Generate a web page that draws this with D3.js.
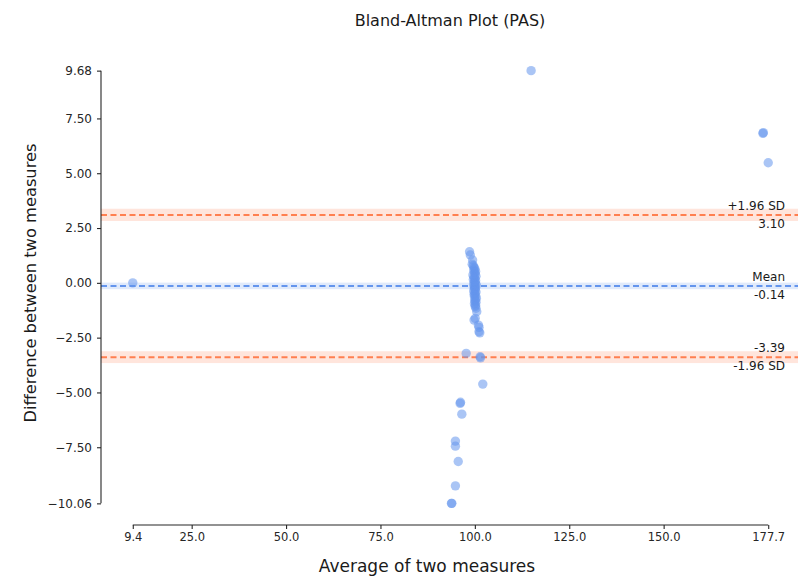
<!DOCTYPE html>
<html>
<head>
<meta charset="utf-8">
<script src="https://cdn.jsdelivr.net/npm/d3@7"></script>
<style>
  html, body { margin: 0; padding: 0; background: #fff; }
  svg { display: block; font-family: "DejaVu Sans", sans-serif; }
</style>
</head>
<body>
<svg id="chart" width="798" height="587"></svg>
<script>
// Mean of the two measurements for each subject
const averages = [
  9.4, 114.9, 176.3, 176.4, 177.7,
  98.6, 98.8, 99.4, 99.3,
  99.6, 99.8, 100.0, 99.7, 100.2, 99.9, 100.1, 99.5, 100.3, 99.8,
  100.0, 99.6, 100.2, 99.9, 100.1, 99.7, 100.4, 100.0, 99.8, 100.2,
  99.9, 100.1, 99.7, 100.3, 100.0, 99.8, 100.2, 99.9, 100.4, 100.1,
  100.0, 100.3, 99.9, 100.2, 100.1,
  100.3, 100.5, 100.1, 99.8, 100.95, 101.1, 101.1, 101.3,
  97.7, 101.4, 101.5, 102.1,
  96.1, 96.2, 96.55, 94.85, 94.85, 95.6, 94.85, 93.8, 93.9
];
// Difference between the two measurements for each subject
const differences = [
  0.0, 9.68, 6.82, 6.85, 5.48,
  1.42, 1.27, 1.04, 0.85,
  0.78, 0.70, 0.64, 0.58, 0.52, 0.47, 0.41, 0.36, 0.30, 0.25,
  0.20, 0.15, 0.10, 0.05, 0.0, -0.05, -0.10, -0.14, -0.18, -0.22,
  -0.27, -0.32, -0.37, -0.42, -0.48, -0.53, -0.58, -0.64, -0.70, -0.76,
  -0.82, -0.88, -0.95, -1.02, -1.08,
  -1.16, -1.32, -1.62, -1.70, -1.93, -2.03, -2.23, -2.28,
  -3.22, -3.37, -3.42, -4.62,
  -5.50, -5.45, -5.99, -7.22, -7.45, -8.15, -9.26, -10.06, -10.06
];

// Summary statistics and their confidence bands
const meanDiff = -0.14;
const upperLoA = 3.10;
const lowerLoA = -3.39;
const meanCI = [-0.29, 0.01];
const upperCI = [2.82, 3.38];
const lowerCI = [-3.66, -3.12];

const xTicks = [9.4, 25.0, 50.0, 75.0, 100.0, 125.0, 150.0, 177.7];
const yTicks = [9.68, 7.50, 5.00, 2.50, 0.00, -2.50, -5.00, -7.50, -10.06];

const title = "Bland-Altman Plot (PAS)";
const xLabel = "Average of two measures";
const yLabel = "Difference between two measures";

const svg = d3.select("#chart");
const plotLeft = 101, plotRight = 800, plotTop = 49, plotBottom = 525;

const xMin = d3.min(averages), xMax = d3.max(averages);
const yMin = d3.min(differences), yMax = d3.max(differences);
const xPad = (xMax - xMin) * 0.05, yPad = (yMax - yMin) * 0.05;

const x = d3.scaleLinear().domain([xMin - xPad, xMax + xPad]).range([plotLeft, plotRight]);
const y = d3.scaleLinear().domain([yMin - yPad, yMax + yPad]).range([plotBottom, plotTop]);

const fmtMinus = s => s.replace("-", "\u2212");

// Confidence bands
const bands = [
  { ci: upperCI, color: "rgba(255,127,80,0.2)" },
  { ci: meanCI, color: "rgba(100,149,237,0.2)" },
  { ci: lowerCI, color: "rgba(255,127,80,0.2)" }
];
svg.append("g").selectAll("rect").data(bands).join("rect")
  .attr("x", plotLeft).attr("width", plotRight - plotLeft)
  .attr("y", d => y(d.ci[1]))
  .attr("height", d => y(d.ci[0]) - y(d.ci[1]))
  .attr("fill", d => d.color);

// Mean and limits of agreement
const lines = [
  { v: upperLoA, color: "#FF7F50" },
  { v: meanDiff, color: "#6495ED" },
  { v: lowerLoA, color: "#FF7F50" }
];
svg.append("g").selectAll("line").data(lines).join("line")
  .attr("x1", plotLeft).attr("x2", plotRight)
  .attr("y1", d => y(d.v)).attr("y2", d => y(d.v))
  .attr("stroke", d => d.color)
  .attr("stroke-width", 2)
  .attr("stroke-dasharray", "6,3.5");

// Scatter points
svg.append("g").selectAll("circle").data(averages.map((a, i) => [a, differences[i]])).join("circle")
  .attr("cx", d => x(d[0]))
  .attr("cy", d => y(d[1]))
  .attr("r", 4.7)
  .attr("fill", "#6495ED")
  .attr("fill-opacity", 0.55);

// Axes, spines trimmed to the outer ticks
const yAxis = d3.axisLeft(y).tickValues(yTicks).tickSize(4).tickPadding(5)
  .tickFormat(d => fmtMinus(d3.format(".2f")(d)));
const gy = svg.append("g").attr("transform", `translate(${plotLeft},0)`).call(yAxis);
gy.select(".domain").attr("d", `M0,${y(yMax)}V${y(yMin)}`);

const xAxis = d3.axisBottom(x).tickValues(xTicks).tickSize(4).tickPadding(4)
  .tickFormat(d3.format(".1f"));
const gx = svg.append("g").attr("transform", `translate(0,${plotBottom})`).call(xAxis);
gx.select(".domain").attr("d", `M${x(xMin)},0H${x(xMax)}`);

[gx, gy].forEach(g => {
  g.select(".domain").attr("stroke", "#262626").attr("stroke-width", 1.1);
  g.selectAll(".tick line").attr("stroke", "#262626").attr("stroke-width", 1.1);
  g.selectAll(".tick text").attr("fill", "#262626")
    .attr("font-family", "DejaVu Sans, sans-serif");
});
gy.selectAll(".tick text").attr("font-size", 12);
gx.selectAll(".tick text").attr("font-size", 11.5);

// Line annotations
const labelX = 785;
const annotations = [
  { text: "+1.96 SD", v: upperLoA, dy: -5 },
  { text: upperLoA.toFixed(2), v: upperLoA, dy: 13 },
  { text: "Mean", v: meanDiff, dy: -5 },
  { text: meanDiff.toFixed(2), v: meanDiff, dy: 13 },
  { text: lowerLoA.toFixed(2), v: lowerLoA, dy: -5 },
  { text: "-1.96 SD", v: lowerLoA, dy: 13 }
];
svg.append("g").selectAll("text").data(annotations).join("text")
  .attr("x", labelX)
  .attr("y", d => y(d.v) + d.dy)
  .attr("text-anchor", "end")
  .attr("font-size", 12)
  .attr("fill", "#1a1a1a")
  .text(d => d.text);

// Titles
svg.append("text").attr("x", 450).attr("y", 26).attr("text-anchor", "middle")
  .attr("font-size", 16).attr("fill", "#1a1a1a").text(title);
svg.append("text").attr("x", 427).attr("y", 572).attr("text-anchor", "middle")
  .attr("font-size", 17).attr("fill", "#1a1a1a").text(xLabel);
svg.append("text").attr("transform", `translate(36,283) rotate(-90)`)
  .attr("text-anchor", "middle")
  .attr("font-size", 16.3).attr("fill", "#1a1a1a").text(yLabel);
</script>
</body>
</html>
